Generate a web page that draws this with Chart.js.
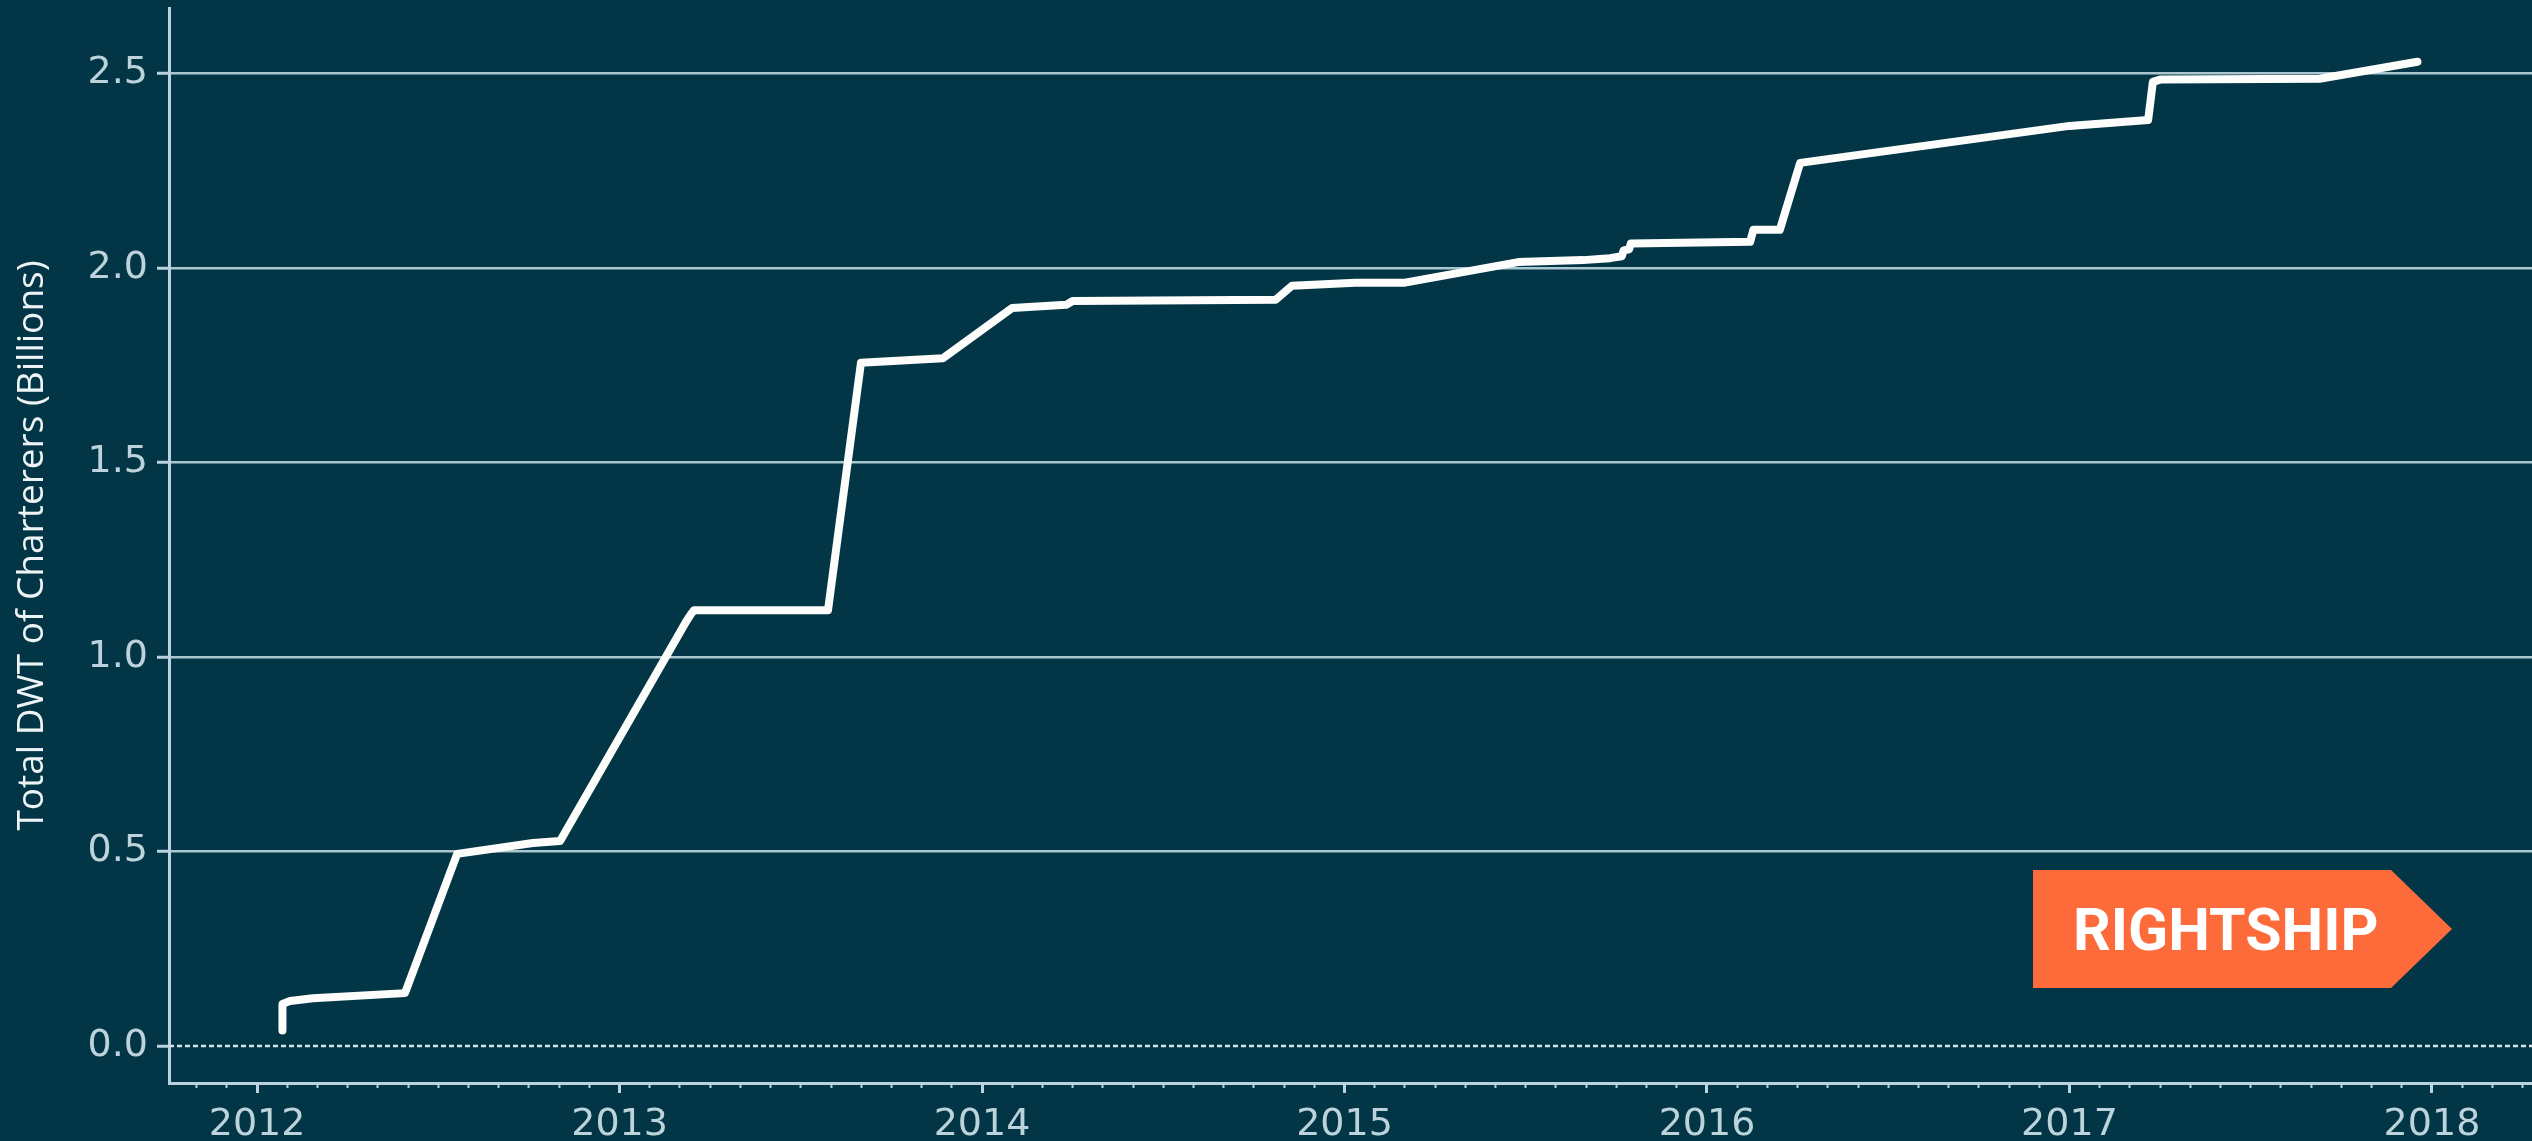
<!DOCTYPE html>
<html>
<head>
<meta charset="utf-8">
<script src="https://cdn.jsdelivr.net/npm/chart.js@4.4.1/dist/chart.umd.min.js"></script>
<style>
  html, body { margin: 0; padding: 0; background: #023646; }
  #wrap { width: 2532px; height: 1141px; position: relative; }
</style>
</head>
<body>
<div id="wrap"><canvas id="dwtChart"></canvas></div>
<script>
// decimal years and total DWT (billions)
const dates = [2012.07, 2012.07, 2012.091, 2012.154, 2012.408, 2012.552, 2012.761, 2012.836,
  2013.183, 2013.197, 2013.205, 2013.575, 2013.666, 2013.892, 2014.083, 2014.232, 2014.25,
  2014.81, 2014.855, 2015.03, 2015.167, 2015.479, 2015.658, 2015.732, 2015.765, 2015.77,
  2015.785, 2015.79, 2016.119, 2016.128, 2016.201, 2016.257, 2017.0, 2017.217, 2017.23,
  2017.25, 2017.69, 2017.96];
const dwt = [0.04, 0.108, 0.116, 0.123, 0.136, 0.494, 0.522, 0.527,
  1.09, 1.11, 1.12, 1.12, 1.756, 1.768, 1.897, 1.905, 1.915,
  1.918, 1.954, 1.962, 1.962, 2.015, 2.02, 2.025, 2.03, 2.045,
  2.048, 2.063, 2.067, 2.098, 2.098, 2.27, 2.365, 2.38, 2.478,
  2.484, 2.486, 2.53];

const yearTicks = [2012, 2013, 2014, 2015, 2016, 2017, 2018];
const valueTicks = [0, 0.5, 1.0, 1.5, 2.0, 2.5];
const xMin = 2011.757, xMax = 2018.276;
const yMin = -0.095, yMax = 2.668;

const monthTicks = [];
for (let y = 2011; y <= 2018; y++) {
  for (let m = 1; m < 12; m++) {
    const v = y + m / 12;
    if (v > xMin && v < xMax) monthTicks.push(v);
  }
}

const axisColor = '#b9d2db';
const gridColor = '#a9c6d1';
const labelColor = '#bcd3dc';
const tickFont = { family: 'DejaVu Sans', size: 38 };

const logoPlugin = {
  id: 'logo',
  afterDraw(chart) {
    const ctx = chart.ctx;
    ctx.save();
    ctx.fillStyle = '#fd6b3a';
    ctx.beginPath();
    ctx.moveTo(2033, 870);
    ctx.lineTo(2391, 870);
    ctx.lineTo(2452, 929);
    ctx.lineTo(2391, 988);
    ctx.lineTo(2033, 988);
    ctx.closePath();
    ctx.fill();
    ctx.fillStyle = '#ffffff';
    ctx.font = 'bold 59px Roboto';
    ctx.textBaseline = 'alphabetic';
    ctx.fillText('RIGHTSHIP', 2073, 950);
    ctx.restore();
  }
};

const noPad = s => { s.paddingTop = 0; s.paddingBottom = 0; s.paddingLeft = 0; s.paddingRight = 0; };

const ctx = document.getElementById('dwtChart').getContext('2d');
new Chart(ctx, {
  type: 'line',
  data: {
    datasets: [{
      data: dates.map((d, i) => ({ x: d, y: dwt[i] })),
      borderColor: '#fdfdfb',
      borderWidth: 8,
      borderJoinStyle: 'round',
      borderCapStyle: 'round',
      pointRadius: 0,
      tension: 0,
      xAxisID: 'x',
      order: 1
    }, {
      data: [{ x: xMin, y: 0 }, { x: xMax, y: 0 }],
      borderColor: '#d7e4ea',
      borderWidth: 2.5,
      borderDash: [5, 3],
      pointRadius: 0,
      xAxisID: 'x',
      order: 2
    }]
  },
  options: {
    responsive: true,
    maintainAspectRatio: false,
    devicePixelRatio: 1,
    animation: false,
    layout: { padding: { top: 8, left: 0, right: 0, bottom: 0 } },
    plugins: { legend: { display: false }, tooltip: { enabled: false } },
    scales: {
      x: {
        type: 'linear',
        min: xMin,
        max: xMax,
        afterBuildTicks: s => { s.ticks = yearTicks.map(v => ({ value: v })); },
        ticks: { color: labelColor, font: tickFont, padding: 9, maxRotation: 0, autoSkip: false,
          callback: v => String(v) },
        grid: { drawOnChartArea: false, tickLength: 10, tickWidth: 3, tickColor: axisColor },
        border: { display: true, color: axisColor, width: 3 },
        afterFit: s => { s.height = 58; noPad(s); }
      },
      xm: {
        type: 'linear',
        position: 'bottom',
        weight: -1,
        min: xMin,
        max: xMax,
        afterBuildTicks: s => { s.ticks = monthTicks.map(v => ({ value: v })); },
        ticks: { display: false },
        grid: { drawOnChartArea: false, tickLength: 5, tickWidth: 2, tickColor: axisColor },
        border: { display: false },
        afterFit: s => { s.height = 0; noPad(s); }
      },
      y: {
        min: yMin,
        max: yMax,
        afterBuildTicks: s => { s.ticks = valueTicks.map(v => ({ value: v })); },
        ticks: { color: labelColor, font: tickFont, padding: 9, callback: v => v.toFixed(1) },
        grid: {
          color: c => (c.tick && c.tick.value === 0) ? 'rgba(0,0,0,0)' : gridColor,
          lineWidth: 2.5,
          tickLength: 12,
          tickWidth: 3,
          tickColor: axisColor
        },
        border: { display: true, color: axisColor, width: 3 },
        title: {
          display: true,
          text: 'Total DWT of Charterers (Billions)',
          color: '#eef3f5',
          font: { family: 'Open Sans', size: 37, weight: '500' },
          padding: { top: 10, bottom: 0 }
        },
        afterFit: s => { s.width = 169; noPad(s); }
      }
    }
  },
  plugins: [logoPlugin]
});
</script>
</body>
</html>
